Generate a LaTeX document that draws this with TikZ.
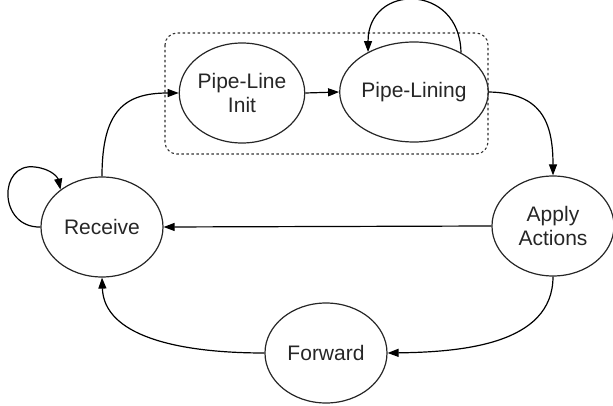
\documentclass[tikz,border=0pt]{standalone}
\usepackage{fontspec}
\setmainfont{Liberation Sans}
\usetikzlibrary{shapes.geometric,arrows.meta}
\begin{document}
\begin{tikzpicture}[x=1pt,y=-1pt,
  state/.style={draw=black!85,line width=1.2pt,ellipse,minimum width=122pt,minimum height=100pt,inner sep=0pt,align=center,font=\fontsize{21}{24}\selectfont,text=black!85},
  arr/.style={line width=1.2pt,-{Triangle[length=11pt,width=8pt]}},
  grp/.style={draw=black!80,line width=1.1pt,dash pattern=on 2.5pt off 2.5pt,rounded corners=12pt}]
\useasboundingbox (0,0) rectangle (613,406);
\draw[grp] (165,33) rectangle (488,154);
\node[state] (rec) at (102,227) {Receive};
\node[state] (ini) at (242,93) {Pipe-Line\\Init};
\node[state] (lin) at (414,92) {Pipe-Lining};
\node[state] (app) at (553,226) {Apply\\Actions};
\node[state] (fwd) at (326,353) {Forward};
\draw[arr] (rec.180) .. controls (-2,228) and (-2,162) .. (35,167) .. controls (52,169) and (58,178) .. (rec.138);
\draw[arr] (lin.40) .. controls (460,-17) and (368,-17) .. (lin.139);
\draw[arr] (rec.north) .. controls (102,110) and (125,93) .. (ini.west);
\draw[arr] (ini.east) -- (lin.west);
\draw[arr] (lin.east) .. controls (540,93) and (553,120) .. (app.north);
\draw[arr] (app.west) -- (rec.east);
\draw[arr] (app.south) .. controls (553,345) and (460,352) .. (fwd.east);
\draw[arr] (fwd.west) .. controls (175,353) and (104,335) .. (rec.south);
\end{tikzpicture}
\end{document}
